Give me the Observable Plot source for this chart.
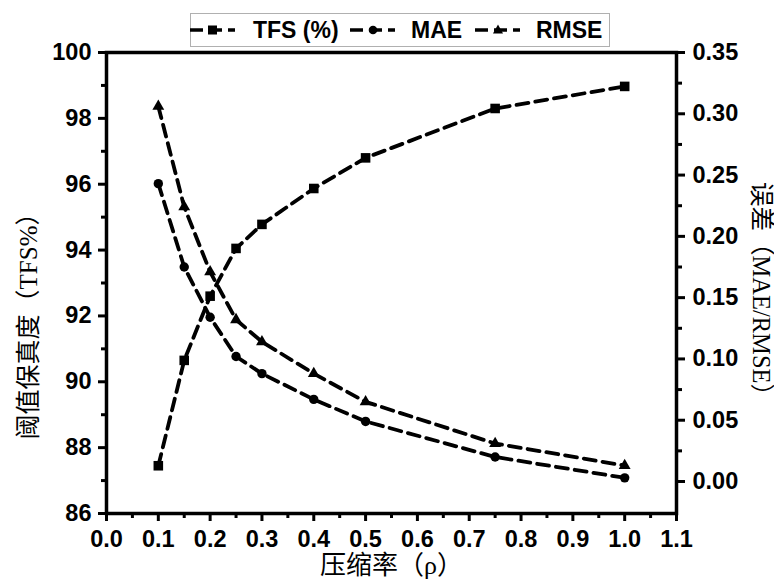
<!DOCTYPE html>
<html><head><meta charset="utf-8">
<script src="https://cdn.jsdelivr.net/npm/d3@7"></script>
<script src="https://cdn.jsdelivr.net/npm/@observablehq/plot@0.6"></script>
<style>
body{margin:0;background:#fff;}
#wrap{position:relative;width:774px;height:580px;overflow:hidden;}
.leg{position:absolute;left:190px;top:13px;width:420px;height:34px;border:1px solid #b0b0b0;background:#fff;box-sizing:border-box;}
.lt{position:absolute;top:17px;line-height:26px;font:bold 23px "Liberation Sans", Arial, sans-serif;color:#000;}
.ls{position:absolute;top:20px;}
</style></head><body><div id="wrap"></div>
<script>
const rho  = [0.1, 0.15, 0.2, 0.25, 0.3, 0.4, 0.5, 0.75, 1.0];
const tfs  = [87.45, 90.65, 92.6, 94.05, 94.78, 95.87, 96.8, 98.3, 98.97];
const mae  = [0.243, 0.175, 0.134, 0.102, 0.088, 0.067, 0.049, 0.020, 0.003];
const rmse = [0.306, 0.224, 0.171, 0.132, 0.114, 0.088, 0.065, 0.031, 0.013];

const xTicks = [0, 0.1, 0.2, 0.3, 0.4, 0.5, 0.6, 0.7, 0.8, 0.9, 1.0, 1.1];
const xMinor = [0.05, 0.15, 0.25, 0.35, 0.45, 0.55, 0.65, 0.75, 0.85, 0.95, 1.05];
const yTicks = [86, 88, 90, 92, 94, 96, 98, 100];
const yMinor = [87, 89, 91, 93, 95, 97, 99];
const rTicks = [0, 0.05, 0.10, 0.15, 0.20, 0.25, 0.30, 0.35];
const rMinor = [0.025, 0.075, 0.125, 0.175, 0.225, 0.275, 0.325];
const seriesNames = ["TFS (%)", "MAE", "RMSE"];
const titleX = "压缩率（ρ）";
const titleY = "阈值保真度（TFS%）";
const titleR = "误差（MAE/RMSE）";

const yDom = [86, 100];
const rDom = [-0.0261, 0.35];
const toL = v => yDom[0] + (v - rDom[0]) / (rDom[1] - rDom[0]) * (yDom[1] - yDom[0]);
const fromL = d => rDom[0] + (d - yDom[0]) / (yDom[1] - yDom[0]) * (rDom[1] - rDom[0]);

const tfsData = rho.map((x, i) => ({x, y: tfs[i]}));
const maeData = rho.map((x, i) => ({x, y: toL(mae[i])}));
const rmseData = rho.map((x, i) => ({x, y: toL(rmse[i])}));

const tickFont = {fontSize: 23.5, fontWeight: "bold", fontFamily: '"Liberation Sans", Arial, sans-serif'};
const titleFont = {fontSize: 25, fontFamily: '"Liberation Serif", "Noto Sans CJK SC", serif', fill: "#000", textAnchor: "middle", lineAnchor: "middle"};
const dash = "12,7";

const chart = Plot.plot({
  width: 774, height: 580,
  marginLeft: 106, marginRight: 98, marginTop: 52, marginBottom: 67,
  style: {background: "#fff", color: "#000", overflow: "visible"},
  x: {domain: [0, 1.1], label: null},
  y: {domain: yDom, label: null},
  marks: [
    Plot.line(tfsData, {x: "x", y: "y", stroke: "#000", strokeWidth: 3.8, strokeDasharray: dash}),
    Plot.line(maeData, {x: "x", y: "y", stroke: "#000", strokeWidth: 3.8, strokeDasharray: dash}),
    Plot.line(rmseData, {x: "x", y: "y", stroke: "#000", strokeWidth: 3.8, strokeDasharray: dash}),
    Plot.dot(tfsData, {x: "x", y: "y", symbol: "square", r: 5.4, fill: "#000"}),
    Plot.dot(maeData, {x: "x", y: "y", symbol: "circle", r: 4.7, fill: "#000"}),
    Plot.dot(rmseData, {x: "x", y: "y", symbol: "triangle", r: 4.4, fill: "#000"}),
    Plot.axisX({ticks: xTicks, tickFormat: d3.format(".1f"), tickSize: 8, tickPadding: 9, strokeWidth: 3, label: null, ...tickFont}),
    Plot.axisX({ticks: xMinor, tickFormat: () => "", tickSize: 5, strokeWidth: 3, label: null}),
    Plot.axisY({ticks: yTicks, tickFormat: d3.format("d"), tickSize: 8, tickPadding: 7, strokeWidth: 3, label: null, ...tickFont}),
    Plot.axisY({ticks: yMinor, tickFormat: () => "", tickSize: 5, strokeWidth: 3, label: null}),
    Plot.axisY(rTicks.map(toL), {anchor: "right", tickFormat: d => (Math.round(fromL(d) * 100) / 100).toFixed(2), tickSize: 8, tickPadding: 8, strokeWidth: 3, label: null, ...tickFont}),
    Plot.axisY(rMinor.map(toL), {anchor: "right", tickFormat: () => "", tickSize: 5, strokeWidth: 3, label: null}),
    Plot.frame({stroke: "#000", strokeWidth: 3.5}),
    Plot.text([titleX], {frameAnchor: "bottom", dy: 52, text: d => d, ...titleFont, fontSize: 26}),
    Plot.text([titleY], {frameAnchor: "left", dx: -78, dy: 37, rotate: -90, text: d => d, ...titleFont}),
    Plot.text([titleR], {frameAnchor: "right", dx: 84, dy: 12, rotate: 90, text: d => d, ...titleFont, fontSize: 24.5})
  ]
});
const wrap = document.getElementById("wrap");
wrap.appendChild(chart);

// legend
const leg = document.createElement("div");
leg.className = "leg";
wrap.appendChild(leg);
const symbols = ["square", "circle", "triangle"];
const sampleLeft = [190, 350, 475];
const textLeft = [253, 411, 536];
seriesNames.forEach((name, i) => {
  const s = document.createElementNS("http://www.w3.org/2000/svg", "svg");
  s.setAttribute("width", 46); s.setAttribute("height", 20);
  s.setAttribute("class", "ls");
  s.style.left = sampleLeft[i] + "px";
  s.style.position = "absolute";
  let marker = "";
  if (symbols[i] === "square") marker = '<rect x="18" y="5.5" width="9" height="9" fill="#000"/>';
  if (symbols[i] === "circle") marker = '<circle cx="23" cy="10" r="4.3" fill="#000"/>';
  if (symbols[i] === "triangle") marker = '<path d="M23,4.5 L28,13.5 L18,13.5 Z" fill="#000"/>';
  s.innerHTML = '<line x1="0" y1="10" x2="45" y2="10" stroke="#000" stroke-width="3.5" stroke-dasharray="13,6"/>' + marker;
  wrap.appendChild(s);
  const t = document.createElement("div");
  t.className = "lt";
  t.style.left = textLeft[i] + "px";
  t.textContent = name;
  wrap.appendChild(t);
});
</script>
</body></html>
